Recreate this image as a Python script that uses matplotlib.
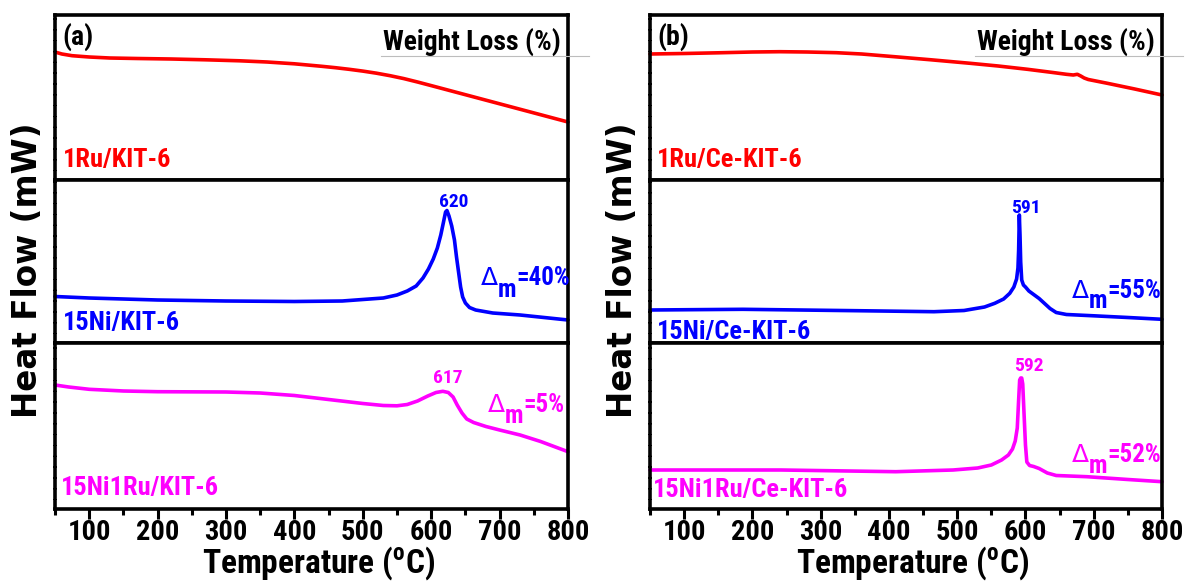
import matplotlib
matplotlib.use("Agg")
import matplotlib.pyplot as plt
from matplotlib import font_manager as fm
from matplotlib.font_manager import FontProperties
from matplotlib.lines import Line2D

# ------------------------------------------------------------------ data
# Panel (a): KIT-6 supported samples (heat flow, arbitrary units)
temp_ru_a = [50, 60, 75, 100, 130, 170, 220, 270, 320, 360, 400, 440, 460, 480, 500, 520, 540, 560, 580,
             600, 650, 700, 750, 800]
hf_ru_a = [128, 126, 124.3, 123, 122, 121.5, 121, 120.2, 119.2, 118, 116.2, 113.7, 112.3, 110.7, 108.9,
           106.8, 104.3, 101.4, 98, 94.4, 85.3, 76.2, 67.1, 58]

temp_ni_a = [50, 100, 200, 300, 400, 470, 500, 530, 550, 565, 578, 588, 596, 603, 609, 614, 618, 621, 623,
             626, 630, 634, 637, 640, 643, 646, 650, 656, 665, 690, 730, 765, 800]
hf_ni_a = [46.5, 45, 43, 42, 41.5, 42, 43.5, 45, 48, 52, 57, 65, 74, 84, 95, 108, 121, 131, 132.5,
           127, 117, 103, 86, 71, 56, 46, 40, 35.5, 33, 30, 28, 25.5, 23]

temp_niru_a = [50, 70, 100, 150, 200, 300, 350, 400, 450, 500, 530, 550, 565, 580, 595, 607, 617, 625, 632,
               638, 645, 652, 662, 680, 700, 730, 760, 800]
hf_niru_a = [124, 122, 119.7, 118, 117.3, 117, 116, 113.5, 109.5, 105.5, 103.5, 103.2, 104.5, 108, 113, 116.5,
             117.7, 116.5, 112, 104, 96, 90, 86.5, 82.5, 79, 74, 67.5, 57.3]

# Panel (b): Ce-KIT-6 supported samples
temp_ru_b = [50, 100, 150, 200, 240, 280, 323, 360, 408, 460, 519, 560, 603, 640, 660, 670, 676, 681, 686,
             692, 720, 760, 800]
hf_ru_b = [126, 126.5, 127.2, 128, 128.3, 128, 127.3, 126, 123.3, 120.3, 116.7, 114, 110.7, 107.5, 105.7,
           105, 105.7, 104, 102, 100.5, 96.7, 91, 85]

temp_ni_b = [50, 186, 353, 466, 510, 540, 555, 568, 577, 583, 587, 589, 590, 591, 592, 593, 594.5, 597, 600,
             605, 612, 620, 628, 636, 645, 660, 700, 750, 800]
hf_ni_b = [33, 33.7, 32.3, 31.3, 32.5, 36, 39.7, 44, 49.7, 56, 64, 75, 93, 128, 108, 81, 63, 58, 56,
           52, 48.5, 44.5, 39.5, 34.5, 30.5, 28.5, 27.2, 25.5, 23.7]

temp_niru_b = [50, 242, 410, 494, 530, 550, 565, 575, 581, 585, 588, 590, 591.5, 593, 594.5, 596, 598, 600,
               602, 606, 612, 620, 632, 645, 690, 750, 800]
hf_niru_b = [39, 39, 37.3, 39, 41, 44, 49, 54, 60, 68, 81, 109, 129, 131, 131, 125, 94, 64,
             47, 43.5, 42.5, 40.5, 36, 33.5, 32.3, 29.5, 27.3]

sample_names_a = ["1Ru/KIT-6", "15Ni/KIT-6", "15Ni1Ru/KIT-6"]
sample_names_b = ["1Ru/Ce-KIT-6", "15Ni/Ce-KIT-6", "15Ni1Ru/Ce-KIT-6"]
peak_labels_a = [None, "620", "617"]
peak_labels_b = [None, "591", "592"]
mass_loss_a = [None, "40%", "5%"]
mass_loss_b = [None, "55%", "52%"]
panel_tags = ["(a)", "(b)"]
x_major = [100, 200, 300, 400, 500, 600, 700, 800]
x_minor = [50, 150, 250, 350, 450, 550, 650, 750]
colors = ["#ff0000", "#0000ff", "#ff00ff"]

# ------------------------------------------------------------------ fonts
WMAP = {"bold": 700, "semibold": 600, "demibold": 600, "demi": 600, "heavy": 800,
        "extra bold": 800, "black": 900, "normal": 400, "regular": 400, "medium": 500}


def _wnum(w):
    return w if isinstance(w, int) else WMAP.get(str(w).lower(), 400)


def find_narrow_bold():
    pref = ["Liberation Sans Narrow", "Arial Narrow", "Roboto Condensed", "Open Sans Condensed",
            "Noto Sans", "Open Sans", "Roboto", "Noto Sans Display", "DejaVu Sans"]
    stretch_rank = {"condensed": 0, "semi-condensed": 1, "extra-condensed": 2, "ultra-condensed": 3}
    best, best_key = None, None
    for f in fm.fontManager.ttflist:
        st = str(f.stretch).lower()
        narrowish = st in stretch_rank or "narrow" in f.name.lower() or "condensed" in f.name.lower()
        if not narrowish or f.style != "normal":
            continue
        w = _wnum(f.weight)
        if w < 600 or w > 800:
            continue
        fam_rank = pref.index(f.name) if f.name in pref else len(pref)
        key = (stretch_rank.get(st, 0), abs(w - 700), fam_rank)
        if best_key is None or key < best_key:
            best, best_key = f, key
    return best.fname if best is not None else None


NARROW_FILE = find_narrow_bold()
FALLBACK = ["Liberation Sans", "DejaVu Sans"]
plt.rcParams["font.family"] = FALLBACK
plt.rcParams["mathtext.default"] = "regular"


def raw_prop(size):
    if NARROW_FILE:
        return FontProperties(fname=NARROW_FILE, size=size)
    return FontProperties(family=FALLBACK, weight="bold", size=size)


# ------------------------------------------------------------------ figure
W, H = 1186, 582
fig = plt.figure(figsize=(W / 100, H / 100), dpi=100)
renderer = fig.canvas.get_renderer()
_w, _h, _d = renderer.get_text_width_height_descent("Weight Loss (%)", raw_prop(20), ismath=False)
S = 178.0 / _w


def tp(size):
    return raw_prop(size * S)


def fx(x):
    return x / W


def fy(y):
    return 1 - y / H


panels = [
    dict(x0=55, x1=568, data=[(temp_ru_a, hf_ru_a), (temp_ni_a, hf_ni_a), (temp_niru_a, hf_niru_a)],
         names=sample_names_a, peaks=peak_labels_a, ml=mass_loss_a, tag=panel_tags[0]),
    dict(x0=650, x1=1162, data=[(temp_ru_b, hf_ru_b), (temp_ni_b, hf_ni_b), (temp_niru_b, hf_niru_b)],
         names=sample_names_b, peaks=peak_labels_b, ml=mass_loss_b, tag=panel_tags[1]),
]
rows = [(15, 180), (180, 343), (343, 509)]

# layout positions in pixels (x, baseline y)
name_pos = [[(63, 167), (63, 330), (61, 495)], [(657, 167), (657, 339), (653, 497)]]
peak_pos = [[None, (454, 207), (448, 383)], [None, (1026, 213), (1029, 371)]]
delta_pos = [[None, (481, 285, 12), (488, 412, 11)], [None, (1072, 298, 10), (1072, 462, 11)]]

for pi, p in enumerate(panels):
    for ri, (yt, yb) in enumerate(rows):
        ax = fig.add_axes([fx(p["x0"]), fy(yb), fx(p["x1"]) - fx(p["x0"]), (yb - yt) / H])
        t, v = p["data"][ri]
        ax.plot(t, v, color=colors[ri], lw=2.6, solid_joinstyle="round", solid_capstyle="round",
                clip_on=False)
        ax.set_xlim(50, 800)
        ax.set_ylim(0, yb - yt)
        ax.set_yticks([])
        for s in ax.spines.values():
            s.set_linewidth(2.6)
            s.set_color("black")
        ax.spines["left"].set_linestyle((0, (2.2, 0.8)))
        if ri < 2:
            ax.set_xticks([])
        else:
            ax.set_xticks(x_major)
            ax.set_xticks(x_minor, minor=True)
            ax.tick_params(axis="x", which="major", direction="out", length=7, width=2.2, pad=0)
            ax.tick_params(axis="x", which="minor", direction="out", length=4, width=2.2)
            for lab in ax.get_xticklabels():
                lab.set_fontproperties(tp(20.5))

        # sample name
        nx, ny = name_pos[pi][ri]
        fig.text(fx(nx), fy(ny), p["names"][ri], color=colors[ri], fontproperties=tp(19),
                 va="baseline", ha="left")
        # peak label
        if p["peaks"][ri]:
            px_, py_ = peak_pos[pi][ri]
            fig.text(fx(px_), fy(py_), p["peaks"][ri], color=colors[ri], fontproperties=tp(14),
                     va="baseline", ha="center")
        # delta m label
        if p["ml"][ri]:
            dx, dy, drop = delta_pos[pi][ri]
            t1 = fig.text(fx(dx), fy(dy), "Δ", color=colors[ri], fontsize=18,
                          va="baseline", ha="left", family=["DejaVu Sans"])
            t2 = ax.annotate("m", xy=(1, fy(dy + drop)), xycoords=(t1, "figure fraction"),
                             color=colors[ri], fontproperties=tp(18),
                             va="baseline", ha="left", annotation_clip=False)
            ax.annotate("=" + p["ml"][ri], xy=(1, fy(dy)), xycoords=(t2, "figure fraction"),
                        color=colors[ri], fontproperties=tp(18),
                        va="baseline", ha="left", annotation_clip=False)

    # panel tag, header, grey rule
    fig.text(fx(p["x0"] + 7), fy(45), p["tag"], fontproperties=tp(20), va="baseline", ha="left")
    fig.text(fx(p["x1"] - 7), fy(50), "Weight Loss (%)", fontproperties=tp(20),
             va="baseline", ha="right")
    fig.add_artist(Line2D([fx(p["x1"] - 187), fx(p["x1"] + 21)], [fy(56), fy(56)],
                          color="#bdbdbd", lw=0.8, transform=fig.transFigure))
    # x label
    cx = (p["x0"] + p["x1"]) / 2 + 7
    fig.text(fx(cx), fy(573), "Temperature ($^{o}$C)", fontproperties=tp(24),
             va="baseline", ha="center")
    # y label
    fig.text(fx(p["x0"] - 27), fy(270), "Heat Flow (mW)", fontsize=23.5, fontweight="bold",
             rotation=90, va="center", ha="center", family=["DejaVu Sans"])

fig.savefig("out.png", dpi=100)
